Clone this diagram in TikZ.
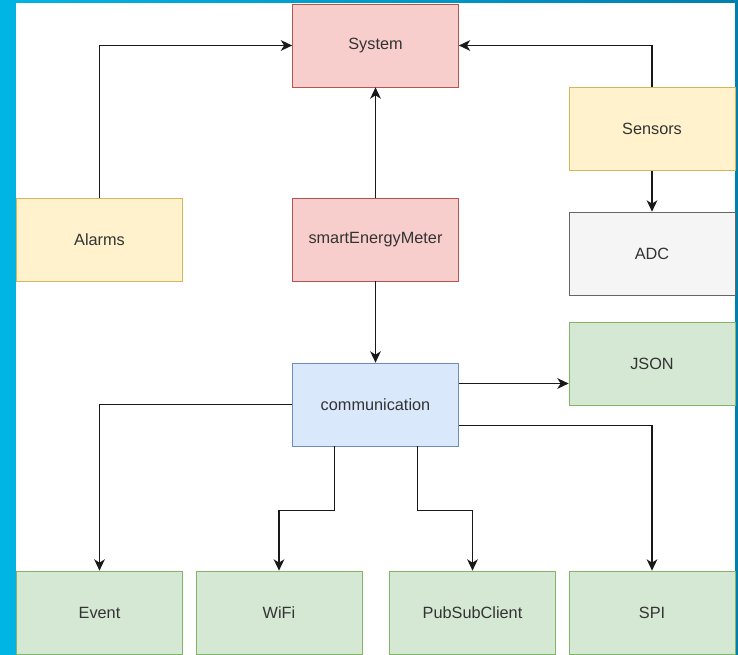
\documentclass[tikz,border=0pt]{standalone}
\usepackage{fontspec}
\setmainfont{Liberation Sans}
\usetikzlibrary{arrows.meta}

\definecolor{redfill}{RGB}{248,206,204}
\definecolor{redline}{RGB}{184,84,80}
\definecolor{yellowfill}{RGB}{255,242,204}
\definecolor{yellowline}{RGB}{214,182,86}
\definecolor{greyfill}{RGB}{245,245,245}
\definecolor{greyline}{RGB}{102,102,102}
\definecolor{greenfill}{RGB}{213,232,212}
\definecolor{greenline}{RGB}{130,179,102}
\definecolor{bluefill}{RGB}{218,232,252}
\definecolor{blueline}{RGB}{108,142,191}
\definecolor{frameA}{RGB}{0,180,228}
\definecolor{frameB}{RGB}{0,128,175}
\definecolor{textgrey}{RGB}{51,51,51}

\begin{document}
\begin{tikzpicture}[
    x=0.03cm, y=-0.03cm,
    every node/.style={rectangle, minimum width=4.98cm, minimum height=2.49cm, text centered, font=\fontsize{13.9}{16}\selectfont, text=textgrey, line width=0.6pt},
    arrow/.style={-{Stealth[length=0.34cm, width=0.32cm, inset=0.1cm]}, line width=1.3pt, black!90}
]
    \useasboundingbox (0,0) rectangle (738,655);
    \shade[left color=frameA, right color=frameB] (0,0) rectangle (738,655);
    \fill[white] (16,3) rectangle (735,655);

    \node[fill=redfill, draw=redline] (system) at (375.5,45.5) {System};
    \node[fill=yellowfill, draw=yellowline] (sensors) at (652,129) {Sensors};
    \node[fill=greyfill, draw=greyline] (adc) at (652,253.5) {ADC};
    \node[fill=yellowfill, draw=yellowline] (alarms) at (99.5,239.5) {Alarms};
    \node[fill=redfill, draw=redline] (meter) at (375.5,239.5) {smartEnergyMeter};
    \node[fill=greenfill, draw=greenline] (json) at (652,364) {JSON};
    \node[fill=bluefill, draw=blueline] (comm) at (375.5,404.5) {communication};
    \node[fill=greenfill, draw=greenline] (event) at (99.5,612.5) {Event};
    \node[fill=greenfill, draw=greenline] (wifi) at (279,612.5) {WiFi};
    \node[fill=greenfill, draw=greenline] (pubsub) at (472.5,612.5) {PubSubClient};
    \node[fill=greenfill, draw=greenline] (spi) at (652,612.5) {SPI};

    \draw[arrow] (alarms.north) |- (system.west);
    \draw[arrow] (sensors.north) |- (system.east);
    \draw[arrow] (meter) -- (system);
    \draw[arrow] (sensors) -- (adc);
    \draw[arrow] (meter) -- (comm);
    \draw[arrow] ([yshift=0.63cm]comm.east) -- ([yshift=0.63cm]comm.east -| json.west);
    \draw[arrow] (comm.west) -| (event.north);
    \draw[arrow] ([xshift=-1.23cm]comm.south) -- ++(0,-1.92cm) -| (wifi.north);
    \draw[arrow] ([xshift=1.26cm]comm.south) -- ++(0,-1.92cm) -| (pubsub.north);
    \draw[arrow] ([yshift=-0.63cm]comm.east) -| (spi.north);
\end{tikzpicture}
\end{document}
